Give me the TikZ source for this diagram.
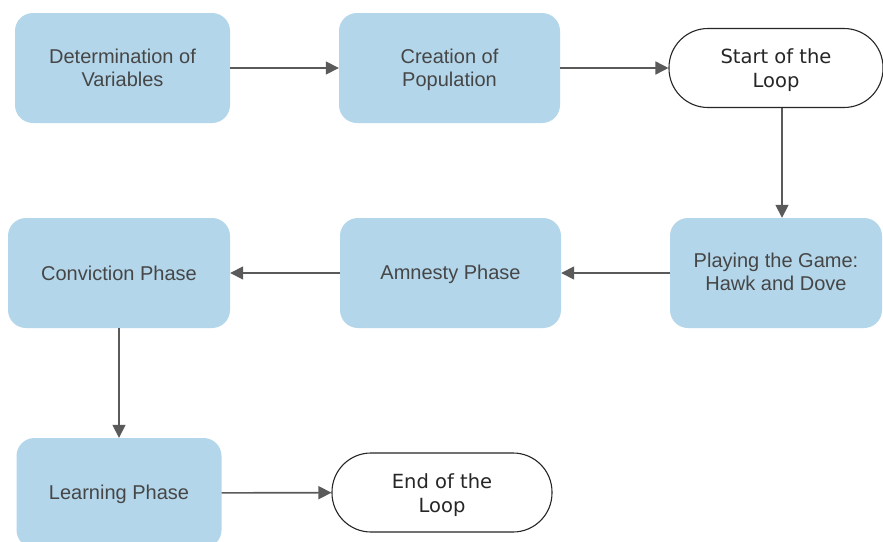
\documentclass[tikz,border=0pt]{standalone}
\usepackage{fontspec}
\setmainfont{Liberation Sans}
\newfontfamily\pillfont{DejaVu Sans}
\usetikzlibrary{arrows.meta}
\definecolor{boxblue}{HTML}{B3D6EA}
\definecolor{txtgray}{HTML}{464646}
\definecolor{arrgray}{HTML}{5A5A5A}
\newcommand{\lowtxt}[2]{\raisebox{-#1}[\height][\depth]{\begin{tabular}{@{}c@{}}#2\end{tabular}}}
\begin{document}
\begin{tikzpicture}[x=1pt,y=-1pt,
  bluebox/.style={fill=boxblue, draw=none, rounded corners=18pt, text=txtgray,
    font=\fontsize{20}{22.5}\selectfont, align=center, inner sep=0pt,
    minimum height=110pt},
  pill/.style={draw=black!85, line width=1.1pt, fill=white, rounded corners=39pt,
    text=black!85, font=\pillfont\fontsize{19.5}{24}\selectfont, align=center,
    inner sep=0pt, minimum height=79pt},
  arr/.style={draw=arrgray, line width=1.6pt, -{Triangle[length=13pt,width=13pt]}}]
\clip (0,0) rectangle (883,541);
\fill[white] (0,0) rectangle (883,541);
\node[bluebox, minimum width=215pt] (det) at (122.5,68) {\lowtxt{2.5pt}{Determination of\\Variables}};
\node[bluebox, minimum width=221pt] (pop) at (449.5,68) {\lowtxt{2.5pt}{Creation of\\Population}};
\node[pill, minimum width=214pt] (start) at (776,68) {\lowtxt{3pt}{Start of the\\Loop}};
\node[bluebox, minimum width=212pt] (play) at (776,273) {\lowtxt{1.5pt}{Playing the Game:\\Hawk and Dove}};
\node[bluebox, minimum width=221pt] (amn) at (450.5,273) {\lowtxt{1.5pt}{Amnesty Phase}};
\node[bluebox, minimum width=222pt] (conv) at (119,273) {Conviction Phase};
\node[bluebox, minimum width=205pt] (learn) at (119,493) {\lowtxt{1.5pt}{Learning Phase}};
\node[pill, minimum width=220pt] (end) at (442,492.5) {\lowtxt{3pt}{End of the\\Loop}};
\draw[arr] (det) -- (pop);
\draw[arr] (pop) -- (start);
\draw[arr] ([xshift=6pt]start.south) -- ([xshift=6pt]play.north);
\draw[arr] (play) -- (amn);
\draw[arr] (amn) -- (conv);
\draw[arr] (conv) -- (learn);
\draw[arr] (learn) -- (end);
\end{tikzpicture}
\end{document}
